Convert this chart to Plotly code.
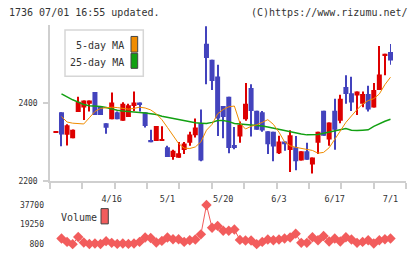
import plotly.graph_objects as go
import numpy as np

# ---------------- data ----------------
idx = list(range(-1, 60))  # trading-day index, last = 7/1
open_ = [2324, 2376, 2318, 2309, 2377, 2388, 2398, 2428, 2391, 2348, 2358, 2376, 2354, 2364, 2392, 2401,
         2376, 2305, 2302, 2303, 2286, 2261, 2259, 2279, 2298, 2317, 2348, 2552, 2511, 2468, 2392, 2416,
         2292, 2314, 2358, 2438, 2380, 2376, 2327, 2326, 2271, 2301, 2279, 2286, 2252, 2276, 2242, 2298,
         2380, 2306, 2380, 2354, 2441, 2425, 2419, 2398, 2423, 2388, 2433, 2521, 2531]
high = [2327, 2376, 2345, 2332, 2416, 2406, 2406, 2428, 2391, 2348, 2427, 2378, 2402, 2398, 2429, 2401,
        2376, 2331, 2341, 2340, 2290, 2280, 2300, 2300, 2326, 2360, 2383, 2597, 2511, 2498, 2392, 2416,
        2338, 2352, 2451, 2448, 2380, 2379, 2327, 2326, 2316, 2301, 2330, 2315, 2276, 2298, 2260, 2326,
        2380, 2350, 2411, 2421, 2471, 2467, 2429, 2429, 2444, 2451, 2546, 2526, 2551]
low = [2324, 2289, 2291, 2309, 2377, 2356, 2378, 2369, 2369, 2321, 2358, 2358, 2354, 2364, 2379, 2378,
       2337, 2299, 2302, 2303, 2261, 2254, 2259, 2269, 2290, 2311, 2250, 2448, 2433, 2315, 2309, 2271,
       2281, 2298, 2354, 2314, 2331, 2326, 2269, 2250, 2269, 2277, 2223, 2227, 2252, 2254, 2219, 2269,
       2316, 2290, 2280, 2348, 2398, 2379, 2369, 2389, 2378, 2388, 2433, 2471, 2498]
close = [2327, 2319, 2343, 2331, 2403, 2406, 2406, 2369, 2369, 2336, 2401, 2358, 2398, 2394, 2401, 2396,
         2341, 2299, 2341, 2305, 2261, 2277, 2271, 2296, 2319, 2337, 2252, 2515, 2456, 2360, 2364, 2284,
         2284, 2344, 2398, 2379, 2331, 2329, 2294, 2288, 2301, 2294, 2317, 2250, 2276, 2254, 2260, 2326,
         2316, 2350, 2331, 2411, 2423, 2401, 2429, 2423, 2383, 2433, 2473, 2526, 2509]

ma_idx = list(range(0, 60))
ma5 = [2365, 2351, 2348, 2347, 2346, 2362, 2378, 2386, 2388, 2389, 2388, 2386, 2384, 2386, 2389, 2387,
       2382, 2372, 2357, 2337, 2315, 2296, 2284, 2283, 2287, 2300, 2330, 2345, 2372, 2383, 2390, 2392,
       2348, 2333, 2340, 2344, 2350, 2357, 2345, 2325, 2300, 2290, 2286, 2283, 2280, 2278, 2271, 2273,
       2285, 2305, 2328, 2350, 2368, 2383, 2397, 2406, 2411, 2423, 2447, 2466]
ma25 = [2423, 2415, 2408, 2402, 2396, 2393, 2392, 2391, 2388, 2384, 2381, 2379, 2378, 2377, 2376, 2374,
        2372, 2370, 2366, 2363, 2361, 2358, 2355, 2352, 2349, 2348, 2347, 2350, 2355, 2355, 2352, 2347,
        2346, 2345, 2344, 2343, 2341, 2338, 2335, 2332, 2329, 2325, 2322, 2320, 2318, 2318, 2319, 2322,
        2325, 2328, 2332, 2334, 2330, 2329, 2330, 2331, 2340, 2347, 2353, 2358]
volume = [6100, 2900, 800, 7500, 2400, 900, 1450, 900, 3600, 2000, 1000, 1450, 1000, 1450, 2900, 7000,
          6600, 2400, 3850, 7000, 5400, 5400, 2900, 4500, 5100, 10000, 37700, 16200, 18000, 13400, 13400,
          14600, 4800, 4200, 4200, 800, 2900, 5100, 4500, 5100, 6100, 7000, 10700, 2000, 2000, 7300, 4500,
          8500, 3300, 6100, 3300, 7300, 5100, 2000, 2900, 4500, 1450, 4500, 5400, 6100]
date_pos = [9, 19, 29, 39, 49, 59]
date_labels = ["4/16", "5/1", "5/20", "6/3", "6/17", "7/1"]
price_ticks = [2200, 2400]

# ---------------- styling ----------------
RED = "#dd0000"
BLUE = "#4343bd"
ORANGE = "#f08c00"
GREEN = "#12a012"
VOLC = "#f25c5c"
AX = "#cfcfcf"
TXT = "#333333"
MONO = "DejaVu Sans Mono"

W, H = 420, 259
PL, PR, PT, PB = 50, 406, 25, 255
VTOP = 209  # top pixel of the volume panel (date labels sit just above)


def fx(px):
    return (px - PL) / (PR - PL)


def fy(py):
    return (PB - py) / (PB - PT)


xr = [-2.06, 61.78]
unit_px = (PR - PL) / (xr[1] - xr[0])

# candle pieces derived from OHLC
up = [c >= o for o, c in zip(open_, close)]
colors = [RED if u else BLUE for u in up]
body_base = [min(o, c) for o, c in zip(open_, close)]
body_h = [max(abs(c - o), 1.5) for o, c in zip(open_, close)]
wick_h = [h - l for h, l in zip(high, low)]

fig = go.Figure()
fig.add_trace(go.Bar(x=idx, y=wick_h, base=low, width=1.0 / unit_px,
                     marker=dict(color=colors, line=dict(width=0)),
                     xaxis="x", yaxis="y", hoverinfo="skip"))
fig.add_trace(go.Bar(x=idx, y=body_h, base=body_base, width=5.0 / unit_px,
                     marker=dict(color=colors, line=dict(width=0)),
                     xaxis="x", yaxis="y", hoverinfo="skip"))
fig.add_trace(go.Scatter(x=ma_idx, y=ma25, mode="lines",
                         line=dict(color=GREEN, width=1.5), xaxis="x", yaxis="y", hoverinfo="skip"))
fig.add_trace(go.Scatter(x=ma_idx, y=ma5, mode="lines",
                         line=dict(color=ORANGE, width=1), xaxis="x", yaxis="y", hoverinfo="skip"))
fig.add_trace(go.Scatter(x=ma_idx, y=volume, mode="lines+markers",
                         line=dict(color=VOLC, width=1),
                         marker=dict(symbol="diamond", size=8, color=VOLC),
                         cliponaxis=False,
                         xaxis="x2", yaxis="y2", hoverinfo="skip"))

vmin, vmax = min(volume), max(volume)
vmid = (vmin + vmax) / 2
# volume panel: vmin drawn at 249px, vmax at 209px
per_px = (vmax - vmin) / (249 - 209)
vr = [vmin - (PB - 249) * per_px, vmax + (209 - VTOP) * per_px]

main_ticks = list(np.linspace(xr[0] + 0.001, xr[1] - 0.001, 12))

fig.update_layout(
    width=W, height=H,
    margin=dict(l=PL, r=W - PR, t=PT, b=H - PB),
    paper_bgcolor="white", plot_bgcolor="white",
    showlegend=False, barmode="overlay",
    xaxis=dict(domain=[0, 1], anchor="y", range=xr, showgrid=False, zeroline=False,
               showline=True, linecolor=AX, linewidth=1.5, ticks="outside", ticklen=6,
               tickcolor=AX, tickwidth=1.5, tickvals=main_ticks, showticklabels=False,
               fixedrange=True),
    yaxis=dict(domain=[fy(184.3), 1], anchor="x", range=[2200, 2600], showgrid=False,
               zeroline=False, showline=True, linecolor=AX, linewidth=1.5, ticks="outside",
               ticklen=5, tickcolor=AX, tickwidth=1.5, tickvals=price_ticks,
               ticktext=[str(v) for v in price_ticks],
               tickfont=dict(family=MONO, size=8, color=TXT), ticklabelstandoff=4),
    xaxis2=dict(domain=[0, 1], anchor="y2", range=xr, side="top", showgrid=False,
                zeroline=False, showline=False, ticks="", tickvals=date_pos,
                ticktext=date_labels, tickfont=dict(family=MONO, size=8.5, color=TXT)),
    yaxis2=dict(domain=[0, fy(VTOP)], anchor="x2", range=vr, showgrid=False, zeroline=False,
                showline=False, ticks="", tickvals=[vmin, vmid, vmax],
                ticktext=[f"{vmin:g}", f"{vmid:g}", f"{vmax:g}"],
                tickfont=dict(family=MONO, size=8, color=TXT), ticklabelstandoff=5),
)

shapes = [
    dict(type="rect", xref="paper", yref="paper", x0=fx(65), x1=fx(143.3), y0=fy(77.3), y1=fy(30),
         line=dict(color="#d6d6d6", width=1.5), fillcolor="white", layer="above"),
    dict(type="rect", xref="paper", yref="paper", x0=fx(131), x1=fx(137.7), y0=fy(52.7), y1=fy(36.7),
         line=dict(color="#444", width=1), fillcolor=ORANGE),
    dict(type="rect", xref="paper", yref="paper", x0=fx(131), x1=fx(137.7), y0=fy(69.3), y1=fy(54),
         line=dict(color="#444", width=1), fillcolor=GREEN),
    dict(type="rect", xref="paper", yref="paper", x0=fx(101), x1=fx(108.3), y0=fy(228.3), y1=fy(212.7),
         line=dict(color="#444", width=1), fillcolor=VOLC),
]
fig.update_layout(shapes=shapes)

ann = [
    dict(text="1736 07/01 16:55 updated.", x=fx(6.7), y=fy(12), xanchor="left", yanchor="middle"),
    dict(text="(C)https://www.rizumu.net/", x=fx(409.5), y=fy(12), xanchor="right", yanchor="middle"),
    dict(text="5-day MA", x=fx(125.5), y=fy(46), xanchor="right", yanchor="middle"),
    dict(text="25-day MA", x=fx(125.5), y=fy(63.3), xanchor="right", yanchor="middle"),
    dict(text="Volume", x=fx(58.5), y=fy(221.7), xanchor="left", yanchor="middle"),
]
for a in ann:
    a.update(xref="paper", yref="paper", showarrow=False,
             font=dict(family=MONO, size=10, color=TXT))
fig.update_layout(annotations=ann)

fig.write_html("out.html")
